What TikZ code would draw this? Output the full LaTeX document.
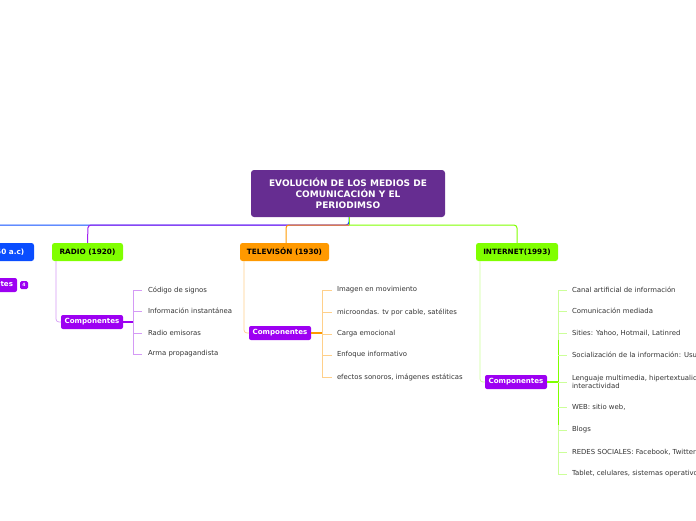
\documentclass[tikz,border=0pt]{standalone}
\usepackage{fontspec}
\setmainfont{DejaVu Sans}
\begin{document}
\begin{tikzpicture}[x=1pt,y=-1pt,
  every node/.style={inner sep=0pt, outer sep=0pt},
  root/.style={fill=rootc, rounded corners=3pt, minimum width=194pt, minimum height=47pt, text=white, font=\fontsize{9}{11}\selectfont\bfseries, align=center},
  topic/.style={rounded corners=2.5pt, minimum height=18pt, font=\fontsize{7.3}{8}\selectfont\bfseries, text=black},
  comp/.style={fill=compc, rounded corners=2pt, minimum width=62pt, minimum height=14pt, text=white, font=\fontsize{7.1}{8}\selectfont\bfseries},
  item/.style={anchor=west, font=\fontsize{6.9}{8.4}\selectfont, text=black!80, align=left},
  conn/.style={line width=1pt, rounded corners=3pt},
  tick/.style={line width=0.6pt}
]
\definecolor{rootc}{HTML}{662D91}
\definecolor{bluec}{HTML}{0A4DFF}
\definecolor{greenc}{HTML}{80FF00}
\definecolor{orangec}{HTML}{FF9900}
\definecolor{compc}{HTML}{9D00F2}
\definecolor{lpurple}{HTML}{D49AF5}
\definecolor{lorange}{HTML}{FFD08A}
\definecolor{lgreen}{HTML}{CCFF99}
\definecolor{purplec}{HTML}{A020F0}

\useasboundingbox (0,0) rectangle (696,520);
\clip (0,0) rectangle (696,520);

% root
\node[root] (root) at (348,193.5) {EVOLUCIÓN DE LOS MEDIOS DE\\COMUNICACIÓN Y EL\\PERIODIMSO};

% topics
\node[topic, fill=bluec, text=white, minimum width=60pt, anchor=east] (imp) at (34,252) {\hspace*{4pt}(1450 a.c)\hspace*{5pt}};
\node[topic, fill=greenc, minimum width=71pt] (radio) at (87.5,252) {RADIO (1920)};
\node[topic, fill=orangec, minimum width=89pt] (tv) at (284.5,252) {TELEVISÓN (1930)};
\node[topic, fill=greenc, minimum width=82pt] (net) at (517,252) {INTERNET(1993)};

% branches from root
\coordinate (rb) at (349,225);
\draw[conn, bluec] (root.south -| rb) -- (rb) -- (-20,225);
\draw[conn, purplec] (rb) -- (88,225) -- (radio.north);
\draw[conn, orangec] (rb) -- (286,225) -- (tv.north -| 286,0);
\draw[conn, greenc] (rb) -- (517,225) -- (net.north);
\draw[line width=1pt, greenc] (root.south -| rb) -- (rb);

% left partially visible componentes
\node[comp, anchor=east, minimum width=50pt] (lcomp) at (17,285) {Componentes\hspace*{4pt}};
\node[fill=compc, rounded corners=1.5pt, minimum width=8pt, minimum height=8pt, text=white, font=\fontsize{4.5}{5}\selectfont\bfseries] (badge) at (24,285) {4};

% RADIO components
\node[comp] (rc) at (92,322) {Componentes};
\draw[conn, lpurple, line width=0.7pt] (56,261) -- (56,322) -- (rc.west);
\draw[compc, line width=1.6pt] (rc.east) -- (133,322);
\draw[lpurple, line width=0.7pt] (133,290) -- (133,354);
\foreach \yy/\t [count=\i] in {290/Código de signos, 311/Información instantánea, 333/Radio emisoras, 354/Arma propagandista}{
  \draw[tick, lpurple] (133,\yy) -- (142,\yy);
  \node[item] (r\i) at (148,\yy) {\t};
}

% TV components
\node[comp] (tc) at (280,333) {Componentes};
\draw[conn, lorange, line width=0.7pt] (244,261) -- (244,333) -- (tc.west);
\draw[orangec, line width=1.6pt] (tc.east) -- (322,333);
\draw[lorange, line width=0.7pt] (322,290) -- (322,377);
\foreach \yy/\t [count=\i] in {290/Imagen en movimiento, 312/{microondas. tv por cable, satélites}, 334/Carga emocional, 355/Enfoque informativo, 377/{efectos sonoros, imágenes estáticas}}{
  \draw[tick, lorange] (322,\yy) -- (332,\yy);
  \node[item] (t\i) at (337,\yy) {\t};
}

% INTERNET components
\node[comp] (ic) at (516,382) {Componentes};
\draw[conn, lgreen, line width=0.7pt] (480,261) -- (480,382) -- (ic.west);
\draw[greenc, line width=1.6pt] (ic.east) -- (558,382);
\draw[lgreen, line width=0.7pt] (558,290) -- (558,474);
\draw[greenc, line width=0.8pt] (558,340) -- (558,425);
\foreach \yy/\t [count=\i] in {290/Canal artificial de información, 311/Comunicación mediada, 333/{Sities: Yahoo, Hotmail, Latinred}, 355/Socialización de la información: Usuarios, 382/{Lenguaje multimedia, hipertextualidad e\\interactividad}, 407/{WEB: sitio web,}, 430/Blogs, 452/{REDES SOCIALES: Facebook, Twitter}, 474/{Tablet, celulares, sistemas operativos}}{
  \draw[tick, lgreen] (558,\yy) -- (567,\yy);
  \node[item] (n\i) at (572,\yy) {\t};
}
\end{tikzpicture}
\end{document}
